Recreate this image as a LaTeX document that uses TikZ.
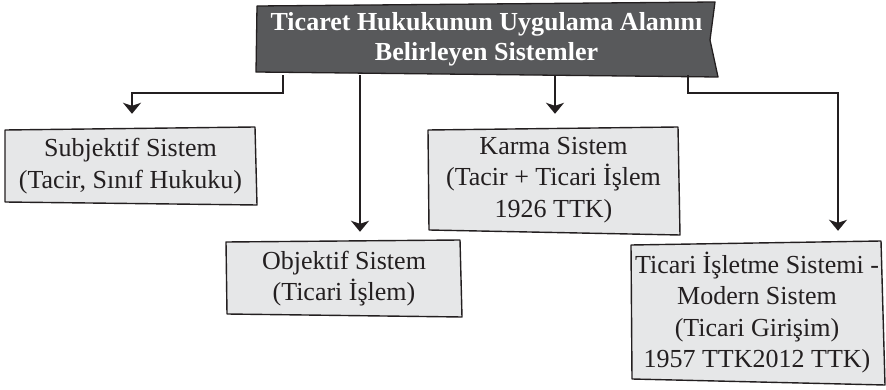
\documentclass[tikz,border=0pt]{standalone}
\usepackage{fontspec}
\setmainfont{Liberation Serif}
\usetikzlibrary{arrows.meta,backgrounds,calc}
\definecolor{titlefill}{HTML}{58595B}
\definecolor{boxfill}{HTML}{E6E7E8}
\definecolor{ink}{HTML}{231F20}
\tikzset{
  txtbox/.style={inner sep=0pt, align=center, font=\fontsize{26}{31.5}\selectfont, text=ink},
  titlebox/.style={inner sep=0pt, align=center, font=\fontsize{26}{30}\selectfont\bfseries, text=white},
  boxline/.style={draw=ink, line width=1.4pt, fill=boxfill, line join=round},
  titleline/.style={draw=ink, line width=1.3pt, fill=titlefill, line join=round},
  arr/.style={draw=ink, line width=1.8pt, -{Stealth[length=11pt,width=18pt,inset=3pt]}}
}
\begin{document}
\begin{tikzpicture}[x=1pt,y=-1pt]
\useasboundingbox (0,0) rectangle (886,390);
% shapes
\draw[titleline] (257,6) -- (715,2) -- (710,40) -- (718,77) -- (256,72) -- cycle;
\draw[boxline] (5,130) -- (255,127) -- (257,205) -- (5,202) -- cycle;
\draw[boxline] (226,242) -- (460,240) -- (462,317) -- (227,314) -- cycle;
\draw[boxline] (428,130) -- (678,127) -- (680,235) -- (429,230) -- cycle;
\draw[boxline] (631,245) -- (881,241) -- (885,385) -- (632,379) -- cycle;
% nodes
\node[titlebox, minimum width=459pt, minimum height=71pt] (T) at (486.5,39.5) {Ticaret Hukukunun Uygulama Alanını\\Belirleyen Sistemler};
\node[txtbox, minimum width=251pt, minimum height=74pt] (S) at (130.5,166) {Subjektif Sistem\\(Tacir, Sınıf Hukuku)};
\node[txtbox, minimum width=235pt, minimum height=75pt] (O) at (344,278.5) {Objektif Sistem\\(Ticari İşlem)};
\node[txtbox, minimum width=251pt, minimum height=104pt] (K) at (553.5,180) {Karma Sistem\\(Tacir + Ticari İşlem\\1926 TTK)};
\node[txtbox, minimum width=252pt, minimum height=139pt] (I) at (757,312.5) {Ticari İşletme Sistemi -\\Modern Sistem\\(Ticari Girişim)\\1957 TTK2012 TTK)};
% connectors
\coordinate (a1) at ([xshift=26pt]T.south west);
\coordinate (b1) at (132,93);
\draw[arr, shorten >=15pt] (a1) |- (b1) -- (b1 |- S.north);
\coordinate (a2) at ([xshift=-126.5pt]T.south);
\draw[arr, shorten >=9pt] (a2) -- (a2 |- O.north);
\coordinate (a3) at ([xshift=68.5pt]T.south);
\draw[arr, shorten >=14pt] (a3) -- (a3 |- K.north);
\coordinate (a4) at ([xshift=201.5pt]T.south);
\coordinate (b4) at (838,93);
\draw[arr, shorten >=12pt] (a4) |- (b4) -- (b4 |- I.north);
\end{tikzpicture}
\end{document}
